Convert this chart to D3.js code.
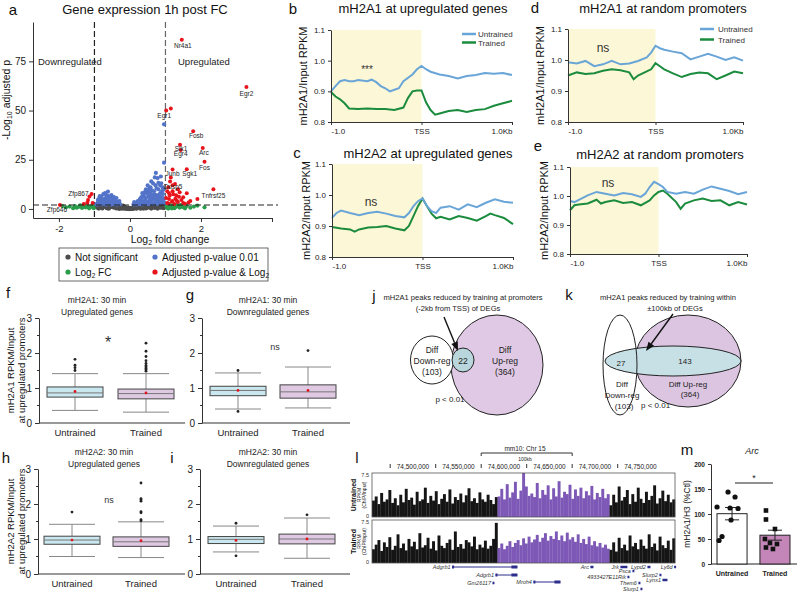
<!DOCTYPE html>
<html>
<head>
<meta charset="utf-8">
<script src="https://cdn.jsdelivr.net/npm/d3@7"></script>
<style>
body { margin: 0; background: #fff; }
svg { font-family: "Liberation Sans", Arial, sans-serif; }
</style>
</head>
<body>
<svg id="fig" width="798" height="593"></svg>
<script>
// panel a: volcano points [log2FC, -log10 padj]
var volcanoGrey = [[-0.95,1.2],[-0.9,0.6],[-0.85,1.6],[-0.8,0.9],[-0.75,1.8],[-0.7,1.2],[-0.65,0.5],[-0.6,1.5],[-0.55,1.0],[-0.5,1.8],
    [-0.45,0.7],[-0.4,1.3],[-0.35,1.7],[-0.3,0.9],[-0.25,1.4],[-0.2,0.6],[-0.15,1.0],[-0.1,0.3],[-0.05,0.6],[0,0.2],
    [0.05,0.5],[0.1,0.3],[0.15,0.9],[0.2,0.5],[0.25,1.2],[0.3,0.7],[0.35,1.6],[0.4,1.0],[0.45,1.8],[0.5,0.8],
    [0.55,1.4],[0.6,1.9],[0.65,1.1],[0.7,0.6],[0.75,1.5],[0.8,1.9],[0.85,0.9],[0.9,1.4],[0.95,0.5],[-0.6,0.2],
    [-0.3,0.1],[0.3,0.2],[0.6,0.3],[-0.9,1.9],[0.9,1.9],[-0.15,0.2],[0.45,0.4],[-0.45,1.9],[0.2,1.7],[-0.2,1.6],
    [-0.98,1.6],[-0.88,0.3],[-0.78,0.4],[-0.68,1.9],[-0.58,0.8],[-0.48,1.2],[-0.38,0.4],[-0.28,1.9],[-0.22,0.2],[-0.12,0.5],
    [-0.08,0.1],[0.08,0.15],[0.12,0.6],[0.18,0.2],[0.28,1.5],[0.38,0.3],[0.48,1.3],[0.58,0.6],[0.68,1.6],[0.78,0.3],
    [0.88,0.7],[0.98,1.2],[-0.02,0.05],[0.02,0.1]];
var volcanoGreen = [[-1.8,0.8],[-1.7,1.2],[-1.6,0.4],[-1.55,1.5],[-1.5,0.6],[-1.45,1.0],[-1.4,1.8],[-1.35,0.5],[-1.3,1.3],[-1.25,0.8],
    [-1.2,1.6],[-1.15,0.3],[-1.1,1.1],[-1.05,1.7],[-1.9,1.5],[1.05,0.5],[1.1,1.2],[1.15,0.8],[1.2,1.7],[1.25,0.4],
    [1.3,1.1],[1.35,1.6],[1.4,0.7],[1.45,1.3],[1.5,0.9],[1.6,1.5],[1.7,0.6],[1.8,1.2],[2.1,0.8],[1.02,1.8],
    [-1.02,0.4],[-1.08,1.5],[-1.28,1.9],[1.08,0.2],[1.12,1.9],[1.18,0.3],[1.3,1.9],[1.42,1.9],[1.55,0.3],[1.9,1.7]];
var volcanoBlue = [[-0.95,2.5],[-0.9,3.5],[-0.88,5],[-0.85,2.8],[-0.82,4.2],[-0.8,6],[-0.78,3],[-0.75,7.5],[-0.72,4.5],[-0.7,2.6],
    [-0.68,5.5],[-0.65,3.5],[-0.62,8.8],[-0.6,6.5],[-0.58,4],[-0.55,2.8],[-0.52,7],[-0.5,5],[-0.48,3.2],[-0.45,6],
    [-0.42,4.2],[-0.4,2.5],[-0.38,5.5],[-0.35,3.4],[-0.32,2.8],[-0.3,4],[-0.28,2.4],[-0.7,8],[-0.55,5.8],[-0.85,6.5],
    [-0.92,2.2],[-0.87,3.8],[-0.8,2.3],[-0.77,4.8],[-0.73,3.2],[-0.67,2.2],[-0.63,4.6],[-0.57,3.3],[-0.53,2.2],[-0.5,3.8],
    [-0.47,2.4],[-0.43,3.1],[-0.37,2.2],[-0.33,3.6],[-0.6,2.6],[-0.66,6.8],[-0.9,4.6],
    [0.1,2.3],[0.15,3],[0.2,2.6],[0.22,4],[0.25,3.2],[0.28,5],[0.3,2.5],[0.32,6],[0.35,4],[0.38,7],
    [0.4,3],[0.42,8.5],[0.45,5.5],[0.48,3.5],[0.5,9.5],[0.52,6.5],[0.55,4.5],[0.58,11],[0.6,7.5],[0.62,3],
    [0.65,13],[0.68,9],[0.7,5.5],[0.72,12],[0.73,18.3],[0.75,7],[0.78,15.7],[0.8,10],[0.82,4],[0.85,8],
    [0.88,13],[0.9,6],[0.92,11],[0.95,3.5],[0.96,23.5],[0.96,43],[0.5,12],[0.6,14],[0.7,16],[0.45,10],
    [0.35,8],[0.55,8.5],[0.65,6],[0.75,10.5],[0.85,12],[0.4,6],[0.3,4.5],[0.9,9],
    [0.12,3.5],[0.18,2.2],[0.24,2.4],[0.27,3.8],[0.33,2.3],[0.36,3.2],[0.39,2.4],[0.43,4.6],[0.46,2.6],[0.5,3.3],
    [0.53,2.4],[0.57,5.8],[0.59,3.2],[0.63,4.8],[0.66,2.6],[0.69,7.2],[0.71,3.4],[0.74,4.3],[0.77,2.6],[0.79,5.4],
    [0.83,6.6],[0.86,3.2],[0.89,4.7],[0.93,7.6],[0.97,5.2],[0.94,9.8],[0.98,2.8],[0.62,9.5],[0.8,13.2],[0.87,16.5],
    [0.55,10.5],[0.48,7.8]];
var volcanoRed = [[1.05,9],[1.1,8],[1.2,9],[1.3,7],[1.4,8.5],[1.5,6],[1.1,5],[1.2,4],[1.35,3.5],[1.5,3],
    [1.7,4],[1.9,5],[-1.05,3],[-1.2,3.2],[-1.3,2.5],[1.25,2.5],[1.05,3],[1.6,8],[1.15,16],[1.27,12.7],
    [1.15,51],[-1.14,6.3],[-1.18,4.6],[1.02,5.5],[1.08,2.8],[1.12,6.8],[1.18,3.6],[1.22,7.5],[1.28,5.2],[1.32,4.2],
    [1.38,6.2],[1.45,4.6],[1.55,2.6],[1.65,3.3],[1.08,11],[1.2,12],[1.35,10]];
var geneLabels = ["Nr4a1","Egr2","Egr1","Fosb","Sik1","Egr4","Arc","Junb","Sgk1","Fos","Dusp5","Tnfrsf25","Zfp867","Zfp646"];
var geneLabelPts = [[1.46,86],[3.28,62],[1.02,50],[1.78,39.5],[1.41,32.6],[1.43,30],[2.05,31],[1.2,20],[1.6,20.2],[2.1,24],
    [1.13,14],[2.35,10],[-1.08,7.6],[-1.97,2.0]];

// panels b-e: profiles [position (kb), RPKM ratio]
var bUntrained = [[-1,0.90],[-0.95,0.917],[-0.9,0.933],[-0.85,0.937],[-0.8,0.933],[-0.75,0.933],[-0.7,0.937],[-0.6,0.933],[-0.55,0.938],[-0.5,0.93],
    [-0.45,0.917],[-0.4,0.91],[-0.35,0.90],[-0.3,0.905],[-0.25,0.91],[-0.2,0.933],[-0.1,0.955],[-0.05,0.972],[0,0.983],[0.05,0.972],
    [0.1,0.964],[0.2,0.955],[0.3,0.95],[0.4,0.942],[0.5,0.95],[0.6,0.953],[0.7,0.96],[0.8,0.957],[0.9,0.96],[1,0.953]];
var bTrained = [[-1,0.898],[-0.95,0.883],[-0.9,0.874],[-0.85,0.861],[-0.8,0.844],[-0.7,0.842],[-0.6,0.844],[-0.5,0.842],[-0.4,0.842],[-0.3,0.839],
    [-0.2,0.847],[-0.15,0.878],[-0.1,0.9],[-0.05,0.903],[0,0.903],[0.05,0.864],[0.1,0.839],[0.15,0.824],[0.2,0.828],[0.3,0.836],
    [0.4,0.839],[0.5,0.833],[0.6,0.839],[0.7,0.842],[0.8,0.853],[0.9,0.861],[1,0.869]];
var cUntrained = [[-1,0.926],[-0.95,0.942],[-0.9,0.95],[-0.8,0.942],[-0.7,0.935],[-0.6,0.942],[-0.5,0.946],[-0.4,0.94],[-0.3,0.932],[-0.2,0.928],
    [-0.15,0.942],[-0.1,0.964],[-0.05,0.98],[0,0.989],[0.05,0.964],[0.1,0.948],[0.15,0.942],[0.2,0.959],[0.3,0.964],[0.4,0.953],
    [0.5,0.97],[0.6,0.961],[0.7,0.975],[0.8,0.986],[0.9,0.978],[1,0.975]];
var cTrained = [[-1,0.897],[-0.9,0.892],[-0.8,0.889],[-0.75,0.882],[-0.7,0.889],[-0.6,0.895],[-0.5,0.897],[-0.4,0.9],[-0.3,0.892],[-0.2,0.886],
    [-0.15,0.9],[-0.1,0.932],[-0.05,0.964],[0,0.989],[0.05,0.964],[0.1,0.94],[0.15,0.925],[0.2,0.93],[0.3,0.921],[0.4,0.932],
    [0.5,0.926],[0.6,0.917],[0.7,0.932],[0.75,0.94],[0.8,0.935],[0.9,0.926],[1,0.906]];
var dUntrained = [[-1,0.993],[-0.9,0.989],[-0.8,0.997],[-0.7,0.98],[-0.6,0.986],[-0.5,0.997],[-0.4,0.986],[-0.3,0.989],[-0.2,0.997],[-0.1,1.008],
    [-0.05,1.024],[0,1.046],[0.05,1.038],[0.1,1.033],[0.2,1.027],[0.3,1.022],[0.4,1.002],[0.5,1.011],[0.6,1.02],[0.7,1.011],
    [0.8,1.0],[0.9,1.009],[1,0.998]];
var dTrained = [[-1,0.95],[-0.9,0.96],[-0.8,0.955],[-0.7,0.957],[-0.6,0.965],[-0.5,0.97],[-0.4,0.967],[-0.3,0.96],[-0.25,0.938],[-0.2,0.95],
    [-0.1,0.963],[-0.05,0.97],[0,0.99],[0.05,0.98],[0.1,0.97],[0.2,0.957],[0.3,0.945],[0.4,0.955],[0.5,0.96],[0.6,0.957],
    [0.7,0.938],[0.8,0.95],[0.9,0.963],[1,0.957]];
var eUntrained = [[-1,0.983],[-0.95,0.979],[-0.9,0.987],[-0.8,1.002],[-0.7,1.014],[-0.6,1.008],[-0.5,1.002],[-0.4,1.01],[-0.3,1.006],[-0.2,0.997],
    [-0.15,1.008],[-0.1,1.031],[-0.05,1.049],[0,1.041],[0.05,1.031],[0.1,1.014],[0.2,1.008],[0.3,1.014],[0.4,1.008],[0.5,1.022],
    [0.6,1.033],[0.7,1.025],[0.8,1.017],[0.9,1.006],[1,1.014]];
var eTrained = [[-1,0.951],[-0.95,0.968],[-0.9,0.971],[-0.8,0.974],[-0.7,0.987],[-0.65,0.974],[-0.6,0.979],[-0.5,0.985],[-0.4,0.976],[-0.3,0.979],
    [-0.2,0.968],[-0.1,0.985],[-0.05,1.002],[0,1.014],[0.05,1.019],[0.1,1.008],[0.2,0.979],[0.25,0.956],[0.3,0.974],[0.4,0.985],
    [0.5,0.991],[0.6,0.983],[0.7,0.985],[0.8,0.968],[0.9,0.979],[1,0.971]];

// panels f-i: box stats [low whisker, q1, median, q3, high whisker, mean] for Untrained, Trained
var fStats = [[0.36,0.74,0.86,1.03,1.41,0.9],[0.31,0.69,0.84,0.97,1.41,0.86]];
var fOut = [[1.5,1.58,1.65,1.82],[1.48,1.52,1.56,1.6,1.64,1.7,1.78,1.9,2.05,2.28]];
var gStats = [[0.4,0.78,0.93,1.05,1.43,0.93],[0.43,0.71,0.89,1.09,1.6,0.93]];
var gOut = [[1.5,0.33],[2.07]];
var hStats = [[0.5,0.85,0.97,1.08,1.42,0.97],[0.47,0.79,0.92,1.06,1.49,0.95]];
var hOut = [[1.77],[1.52,1.55,1.75,1.78,2.08,2.12,2.15,2.6]];
var iStats = [[0.63,0.87,0.99,1.07,1.37,0.96],[0.45,0.86,1.0,1.14,1.6,1.0]];
var iOut = [[1.45,0.52],[1.69]];
var groups = ["Untrained", "Trained"];

// panels j, k: overlap counts
var jCounts = [103, 22, 364];
var kCounts = [103, 27, 143, 364];

// panel l: RPKM tracks in 3 kb bins from chr15:74,455,000
var binStart = 74455000, binSize = 3000;
var purpleStart = 74592000, purpleEnd = 74714000;
var untrainedTrack = [2.8,3.5,2.2,4.1,2.6,3.0,4.6,2.4,3.2,2.0,3.8,2.5,4.8,2.9,3.3,2.1,4.3,2.7,3.0,5.0,2.4,3.6,2.8,4.4,2.2,3.1,3.9,2.6,4.7,2.3,
    3.4,2.9,4.0,2.5,3.7,4.9,2.7,3.2,2.4,4.2,3.0,2.6,3.8,2.9,2.2,3.4,
    3.5,4.8,3.0,5.6,3.3,4.2,6.0,3.1,4.5,7.5,5.2,3.6,4.0,3.4,5.8,3.2,4.6,3.8,5.4,3.0,4.9,3.5,6.1,3.3,4.3,3.9,5.5,3.1,4.7,3.6,
    5.0,3.2,4.4,3.7,5.3,3.0,4.1,3.4,4.8,3.2,3.9,
    2.0,3.8,2.5,5.2,2.8,3.4,4.6,2.2,3.9,2.6,5.0,3.1,2.4,4.3,2.9,3.6,5.4,2.3,3.2,4.5,2.7,3.8,2.5,3.0];
var trainedTrack = [2.4,3.2,4.0,2.1,3.6,2.8,4.5,2.3,3.0,5.0,2.6,3.4,2.2,4.2,2.9,3.7,2.4,5.2,2.7,3.1,4.4,2.5,3.8,2.2,4.8,3.0,2.6,3.5,4.1,2.3,
    5.5,2.8,3.3,2.5,4.0,3.6,2.9,4.6,2.4,3.2,2.7,3.9,2.5,3.0,4.2,7.0,
    2.6,3.4,2.4,3.0,3.8,2.8,3.5,4.0,3.1,4.3,3.4,4.6,3.6,4.1,4.9,3.7,4.4,5.2,3.9,4.7,4.2,5.5,4.0,4.8,3.8,5.3,4.1,4.5,3.7,5.0,
    3.5,4.2,3.3,4.6,3.1,3.8,2.9,3.5,2.7,3.2,2.5,
    2.3,3.6,2.0,4.4,2.6,3.2,2.2,4.8,2.9,3.5,2.4,4.1,3.0,2.5,5.0,2.8,3.4,2.2,4.6,3.1,2.6,3.9,2.3,4.3];
var coordTicks = [74500000, 74550000, 74600000, 74650000, 74700000, 74750000];
var geneNames = ["Adgrb1","Adgrb1","Gm26117","Mroh4","Arc","Jrk","Psca","4933427E11Rik","Them6","Slurp1","Lypd2","Slurp2","Lynx1","Ly6d"];
var geneStart = [74543000,74590700,74587400,74632400,74695000,74728000,74741200,74735700,74747800,74750000,74757700,74770900,74774200,74787000];
var geneEnd = [74614800,74614800,74588500,74662100,74698400,74735700,74743400,74736800,74750000,74752200,74761000,74773100,74779700,74788000];

// panel m: mH2A1/H3 at Arc (% of control)
var mUntrained = [144, 134, 114, 112, 111, 88, 55, 47];
var mTrained = [107, 89, 70, 50, 42, 40, 33, 30];

var svg = d3.select("#fig");
var BLUE = "#6aa5d8", GREEN = "#1b8c3e";

function label(x, y, t, size, opts) {
    opts = opts || {};
    return svg.append("text").attr("x", x).attr("y", y).text(t)
        .attr("font-size", size)
        .attr("text-anchor", opts.anchor || "middle")
        .attr("font-weight", opts.weight || "normal")
        .attr("font-style", opts.italic ? "italic" : "normal")
        .attr("fill", opts.fill || "#111");
}
function vlabel(x, y, t, size, opts) {
    opts = opts || {};
    return svg.append("text").attr("transform", "translate(" + x + "," + y + ") rotate(-90)")
        .attr("text-anchor", "middle").attr("font-size", size)
        .attr("font-weight", opts.weight || "normal").attr("fill", "#111").text(t);
}
function styleAxis(g, size) {
    g.attr("font-family", null).attr("font-size", size);
    g.selectAll("text").attr("fill", "#222");
    g.selectAll("line,path").attr("stroke", "#333");
}

// ---------- panel a ----------
label(13, 15, "a", 15);
label(145, 14, "Gene expression 1h post FC", 13);
var vx = d3.scaleLinear().domain([-2.73, 4.0]).range([33, 272]);
var vy = d3.scaleLinear().domain([-4.6, 95]).range([218, 22]);

var ay = svg.append("g").attr("transform", "translate(33,0)")
    .call(d3.axisLeft(vy).tickValues([0, 25, 50, 75]).tickSize(4).tickSizeOuter(0));
styleAxis(ay, 10);
var ax = svg.append("g").attr("transform", "translate(0,218)")
    .call(d3.axisBottom(vx).tickValues([-2, 0, 2, 4]).tickSize(4).tickSizeOuter(0)
        .tickFormat(function (d) { return d === 4 ? "" : String(d); }));
styleAxis(ax, 9.5);

svg.append("g").selectAll("line").data([-1, 1]).enter().append("line")
    .attr("x1", function (d) { return vx(d); }).attr("x2", function (d) { return vx(d); })
    .attr("y1", 22).attr("y2", 218)
    .attr("stroke", function (d) { return d < 0 ? "#222" : "#666"; })
    .attr("stroke-width", 1.2).attr("stroke-dasharray", "6,3");

function dots(data, color, r) {
    svg.append("g").selectAll("circle").data(data).enter().append("circle")
        .attr("cx", function (d) { return vx(d[0]); })
        .attr("cy", function (d) { return vy(d[1]); })
        .attr("r", r || 2).attr("fill", color);
}
dots(volcanoGrey, "#4d4d4d", 2.3);
dots(volcanoGreen, "#2a9d4c", 2.1);
dots(volcanoBlue, "#5273c8", 2.1);
dots(volcanoRed, "#e8141b", 2);
dots(geneLabelPts, "#e8141b", 2);

svg.append("line").attr("x1", 33).attr("x2", 278).attr("y1", vy(2)).attr("y2", vy(2))
    .attr("stroke", "#222").attr("stroke-width", 1.2).attr("stroke-dasharray", "6,3");

var labelOffsets = [[1, 8, "middle"], [0, 9, "middle"], [-2, 7, "middle"], [3, 7, "middle"], [1, 6, "middle"],
    [0, 6.5, "middle"], [1, 7, "middle"], [0, 6.5, "middle"], [3, 6.5, "middle"], [0, 8, "middle"],
    [3, 8, "middle"], [0, 9, "middle"], [-3, 2, "end"], [-3, 7, "middle"]];
geneLabels.forEach(function (name, i) {
    var p = geneLabelPts[i], o = labelOffsets[i];
    label(vx(p[0]) + o[0], vy(p[1]) + o[1], name, 6.5, { anchor: o[2], fill: "#222" });
});

label(38, 65, "Downregulated", 9.5, { anchor: "start", fill: "#222" });
label(178, 65, "Upregulated", 9.5, { anchor: "start", fill: "#222" });

var xt = svg.append("text").attr("x", 170).attr("y", 243).attr("text-anchor", "middle").attr("font-size", 10.5).attr("fill", "#111");
xt.append("tspan").text("Log");
xt.append("tspan").attr("font-size", 7).attr("dy", 2).text("2");
xt.append("tspan").attr("dy", -2).text(" fold change");
var yt = svg.append("text").attr("transform", "translate(10,100) rotate(-90)").attr("text-anchor", "middle").attr("font-size", 10.5).attr("fill", "#111");
yt.append("tspan").text("-Log");
yt.append("tspan").attr("font-size", 7).attr("dy", 2).text("10");
yt.append("tspan").attr("dy", -2).text(" adjusted p");

svg.append("rect").attr("x", 59).attr("y", 248).attr("width", 209).attr("height", 33)
    .attr("fill", "none").attr("stroke", "#444").attr("stroke-width", 0.8);
var legA = [["Not significant", 68, 257, "#4d4d4d"], ["Log2 FC", 68, 272, "#2a9d4c"],
    ["Adjusted p-value 0.01", 155, 257, "#5273c8"], ["Adjusted p-value & Log2", 155, 272, "#e8141b"]];
legA.forEach(function (l) {
    svg.append("circle").attr("cx", l[1]).attr("cy", l[2]).attr("r", 2.6).attr("fill", l[3]);
    var t = svg.append("text").attr("x", l[1] + 7).attr("y", l[2] + 3.5).attr("font-size", 10).attr("fill", "#111");
    var parts = l[0].split("Log2");
    t.append("tspan").text(parts[0] + (parts.length > 1 ? "Log" : ""));
    if (parts.length > 1) {
        t.append("tspan").attr("font-size", 6.5).attr("dy", 2).text("2");
        t.append("tspan").attr("dy", -2).text(parts[1]);
    }
});

// ---------- panels b-e ----------
function profilePanel(o) {
    var x = d3.scaleLinear().domain([-1, 1]).range([o.left, o.right]);
    var y = d3.scaleLinear().domain([0.8, 1.1]).range([o.bottom, o.top]);
    var g = svg.append("g");
    g.append("rect").attr("x", x(-1)).attr("y", y(1.1)).attr("width", x(0) - x(-1))
        .attr("height", y(0.8) - y(1.1)).attr("fill", "#fcf7d6");
    var line = d3.line().x(function (d) { return x(d[0]); }).y(function (d) { return y(d[1]); });
    g.append("path").datum(o.trained).attr("d", line).attr("fill", "none").attr("stroke", GREEN).attr("stroke-width", 2);
    g.append("path").datum(o.untrained).attr("d", line).attr("fill", "none").attr("stroke", BLUE).attr("stroke-width", 2);
    var ya = g.append("g").attr("transform", "translate(" + o.left + ",0)")
        .call(d3.axisLeft(y).tickValues([0.8, 0.9, 1.0, 1.1]).tickFormat(d3.format(".1f")).tickSize(3).tickSizeOuter(0));
    styleAxis(ya, 8);
    var xa = g.append("g").attr("transform", "translate(0," + o.bottom + ")")
        .call(d3.axisBottom(x).tickValues([-1, 0, 1]).tickSize(3).tickSizeOuter(0)
            .tickFormat(function (d) { return d === -1 ? "-1.0" : d === 0 ? "TSS" : "1.0Kb"; }));
    styleAxis(xa, 8);
    xa.selectAll("text").attr("text-anchor", function (d) { return d === -1 ? "start" : d === 0 ? "middle" : "end"; });
    label(o.lx, o.ly, o.letter, 15);
    label(o.tx, o.ty, o.title, 13);
    vlabel(o.yx, (o.top + o.bottom) / 2, o.ylab, 11);
    label(o.sx, o.sy, o.sig, o.sig === "ns" ? 12 : 10, { fill: "#333" });
    if (o.leg) {
        [["Untrained", BLUE], ["Trained", GREEN]].forEach(function (l, i) {
            var yy = o.leg[2] + i * o.leg[3];
            g.append("line").attr("x1", o.leg[0]).attr("x2", o.leg[0] + 14).attr("y1", yy).attr("y2", yy)
                .attr("stroke", l[1]).attr("stroke-width", 2.5);
            label(o.leg[1], yy + 3, l[0], 8, { anchor: "start", fill: "#333" });
        });
    }
}
profilePanel({ left: 331, right: 512, top: 30, bottom: 122, untrained: bUntrained, trained: bTrained,
    letter: "b", lx: 293, ly: 14, title: "mH2A1 at upregulated genes", tx: 423, ty: 13,
    ylab: "mH2A1/Input RPKM", yx: 307, sig: "***", sx: 367, sy: 73, leg: [462, 478, 34, 8.5] });
profilePanel({ left: 332, right: 513, top: 164, bottom: 257, untrained: cUntrained, trained: cTrained,
    letter: "c", lx: 297, ly: 158, title: "mH2A2 at upregulated genes", tx: 428, ty: 158,
    ylab: "mH2A2/Input RPKM", yx: 310, sig: "ns", sx: 371, sy: 206 });
profilePanel({ left: 568, right: 743, top: 29, bottom: 122, untrained: dUntrained, trained: dTrained,
    letter: "d", lx: 535, ly: 13, title: "mH2A1 at random promoters", tx: 663, ty: 13,
    ylab: "mH2A1/Input RPKM", yx: 544, sig: "ns", sx: 603, sy: 52, leg: [700, 718, 29, 10.5] });
profilePanel({ left: 570, right: 747, top: 167, bottom: 254, untrained: eUntrained, trained: eTrained,
    letter: "e", lx: 538, ly: 151, title: "mH2A2 at random promoters", tx: 660, ty: 159,
    ylab: "mH2A2/Input RPKM", yx: 548, sig: "ns", sx: 608, sy: 187 });

// ---------- panels f-i ----------
function boxPanel(o) {
    var y = d3.scaleLinear().domain([0, 3]).range([o.y0, o.y3]);
    var g = svg.append("g");
    var ya = g.append("g").attr("transform", "translate(" + o.ax + ",0)")
        .call(d3.axisLeft(y).tickValues([0, 1, 2, 3]).tickFormat(d3.format("d")).tickSize(4).tickSizeOuter(0));
    styleAxis(ya, 10);
    g.selectAll(".minor").data([0.5, 1.5, 2.5]).enter().append("line")
        .attr("x1", o.ax - 2).attr("x2", o.ax).attr("y1", function (d) { return y(d); }).attr("y2", function (d) { return y(d); })
        .attr("stroke", "#333");
    g.append("line").attr("x1", o.ax).attr("x2", o.xEnd).attr("y1", o.y0).attr("y2", o.y0).attr("stroke", "#333");
    var fills = ["#c9e7ef", "#dec8e2"];
    o.stats.forEach(function (s, i) {
        var cx = o.centers[i], w = 56, cw = 46;
        g.append("line").attr("x1", cx).attr("x2", cx).attr("y1", y(s[0])).attr("y2", y(s[4])).attr("stroke", "#888");
        g.append("line").attr("x1", cx - cw / 2).attr("x2", cx + cw / 2).attr("y1", y(s[0])).attr("y2", y(s[0])).attr("stroke", "#888");
        g.append("line").attr("x1", cx - cw / 2).attr("x2", cx + cw / 2).attr("y1", y(s[4])).attr("y2", y(s[4])).attr("stroke", "#888");
        g.append("rect").attr("x", cx - w / 2).attr("y", y(s[3])).attr("width", w).attr("height", y(s[1]) - y(s[3]))
            .attr("fill", fills[i]).attr("stroke", "#444").attr("stroke-width", 1);
        g.append("line").attr("x1", cx - w / 2).attr("x2", cx + w / 2).attr("y1", y(s[2])).attr("y2", y(s[2])).attr("stroke", "#777");
        g.append("circle").attr("cx", cx).attr("cy", y(s[5])).attr("r", 1.4).attr("fill", "#e0141b");
        g.selectAll(".out" + i).data(o.outs[i]).enter().append("circle")
            .attr("cx", cx).attr("cy", function (d) { return y(d); }).attr("r", 1.4).attr("fill", "#222");
        label(cx, o.y0 + 13, groups[i], 9.5, { fill: "#222" });
    });
    label(o.lx, o.ly, o.letter, 15);
    label(o.tx, o.ty, o.t1, 8.5, { fill: "#222" });
    label(o.tx, o.ty + 12, o.t2, 8.5, { fill: "#222" });
    label(o.sx, o.sy, o.sig, o.sig === "*" ? 16 : 9, { fill: "#333" });
    if (o.ylab) {
        vlabel(14, (o.y0 + o.y3) / 2, o.ylab[0], 9.5);
        vlabel(25, (o.y0 + o.y3) / 2, o.ylab[1], 9.5);
    }
}
boxPanel({ ax: 39, y0: 423, y3: 318, xEnd: 185, centers: [75, 146], stats: fStats, outs: fOut,
    letter: "f", lx: 8, ly: 298, t1: "mH2A1: 30 min", t2: "Upregulated genes", tx: 97, ty: 303,
    sig: "*", sx: 108, sy: 348, ylab: ["mH2A1 RPKM/Input", "at upregulated promoters"] });
boxPanel({ ax: 202, y0: 423, y3: 318, xEnd: 350, centers: [238, 308], stats: gStats, outs: gOut,
    letter: "g", lx: 190, ly: 300, t1: "mH2A1: 30 min", t2: "Downregulated genes", tx: 268, ty: 303,
    sig: "ns", sx: 275, sy: 350 });
boxPanel({ ax: 38, y0: 574, y3: 469, xEnd: 185, centers: [72, 141], stats: hStats, outs: hOut,
    letter: "h", lx: 6, ly: 463, t1: "mH2A2: 30 min", t2: "Upregulated genes", tx: 104, ty: 455,
    sig: "ns", sx: 109, sy: 503, ylab: ["mH2A2 RPKM/Input", "at upregulated promoters"] });
boxPanel({ ax: 200, y0: 574, y3: 469, xEnd: 350, centers: [236, 307], stats: iStats, outs: iOut,
    letter: "i", lx: 172, ly: 463, t1: "mH2A2: 30 min", t2: "Downregulated genes", tx: 268, ty: 455 });

// ---------- panel j ----------
function arrow(x1, y1, x2, y2) {
    var a = Math.atan2(y2 - y1, x2 - x1), L = 9, W = 3.5;
    svg.append("line").attr("x1", x1).attr("y1", y1).attr("x2", x2 - L * Math.cos(a)).attr("y2", y2 - L * Math.sin(a))
        .attr("stroke", "#111").attr("stroke-width", 1.4);
    var bx = x2 - L * Math.cos(a), by = y2 - L * Math.sin(a);
    svg.append("path").attr("d", "M" + x2 + "," + y2 + "L" + (bx + W * Math.sin(a)) + "," + (by - W * Math.cos(a)) +
        "L" + (bx - W * Math.sin(a)) + "," + (by + W * Math.cos(a)) + "Z").attr("fill", "#111");
}
label(374, 301, "j", 15);
label(463, 300, "mH2A1 peaks reduced by training at promoters", 7.6, { fill: "#222" });
label(458, 311, "(-2kb from TSS) of DEGs", 7.6, { fill: "#222" });
svg.append("ellipse").attr("cx", 497).attr("cy", 365).attr("rx", 46).attr("ry", 50).attr("fill", "#dfc9e4").attr("stroke", "#222");
svg.append("ellipse").attr("cx", 432).attr("cy", 360).attr("rx", 21.5).attr("ry", 24).attr("fill", "#fff").attr("stroke", "#222");
svg.append("ellipse").attr("cx", 463).attr("cy", 360).attr("rx", 11).attr("ry", 12).attr("fill", "#b9d6dc").attr("stroke", "#222");
label(432, 353, "Diff", 8.5, { fill: "#222" });
label(432, 364, "Down-reg", 8.5, { fill: "#222" });
label(432, 375, "(" + jCounts[0] + ")", 8.5, { fill: "#222" });
label(463, 364, jCounts[1], 8.5, { fill: "#222" });
label(505, 353, "Diff", 8.5, { fill: "#222" });
label(505, 364, "Up-reg", 8.5, { fill: "#222" });
label(505, 375, "(" + jCounts[2] + ")", 8.5, { fill: "#222" });
label(450, 402, "p < 0.01", 8, { fill: "#222" });
arrow(444, 317, 458, 351);

// ---------- panel k ----------
label(569, 300, "k", 15);
label(668, 300, "mH2A1 peaks reduced by training within", 7.6, { fill: "#222" });
label(675, 311, "\u00b1100kb of DEGs", 7.6, { fill: "#222" });
svg.append("ellipse").attr("cx", 688).attr("cy", 361).attr("rx", 53).attr("ry", 46).attr("fill", "#dcc5e0").attr("stroke", "#222");
svg.append("ellipse").attr("cx", 673).attr("cy", 361).attr("rx", 68).attr("ry", 15).attr("fill", "#c6e0e6").attr("stroke", "#222");
svg.append("ellipse").attr("cx", 620).attr("cy", 365).attr("rx", 17).attr("ry", 50).attr("fill", "none").attr("stroke", "#222");
label(621, 366, kCounts[1], 8, { fill: "#222" });
label(685, 364, kCounts[2], 8, { fill: "#222" });
label(622, 387, "Diff", 8, { fill: "#222" });
label(622, 398, "Down-reg", 8, { fill: "#222" });
label(624, 409, "(" + kCounts[0] + ")", 8, { fill: "#222" });
label(688, 387, "Diff Up-reg", 8, { fill: "#222" });
label(690, 397, "(" + kCounts[3] + ")", 8, { fill: "#222" });
label(641, 408, "p < 0.01", 8, { anchor: "start", fill: "#222" });
arrow(673, 314, 646, 351);

// ---------- panel l ----------
label(357, 463, "l", 15);
var tx = d3.scaleLinear().domain([74455000, 74788000]).range([372, 675]);
label(525, 451, "mm10: Chr 15", 6.5, { fill: "#222" });
svg.append("path").attr("d", "M" + tx(74575000) + ",456V453H" + tx(74675000) + "V456").attr("fill", "none").attr("stroke", "#333");
label(525, 461, "100kb", 5, { fill: "#222" });
coordTicks.forEach(function (c) {
    label(tx(c), 469, d3.format(",")(c), 6.5, { fill: "#222" });
    svg.append("line").attr("x1", tx(c - 25000)).attr("x2", tx(c - 25000)).attr("y1", 464).attr("y2", 468).attr("stroke", "#333");
});
function track(vals, top, bottom, names) {
    var ty = d3.scaleLinear().domain([0, 7.5]).range([bottom, top]);
    var bw = tx(binStart + binSize) - tx(binStart);
    svg.append("g").selectAll("rect").data(vals).enter().append("rect")
        .attr("x", function (d, i) { return tx(binStart + i * binSize); })
        .attr("width", bw + 0.2)
        .attr("y", function (d) { return ty(d); })
        .attr("height", function (d) { return bottom - ty(d); })
        .attr("fill", function (d, i) {
            var s = binStart + i * binSize;
            return (s >= purpleStart && s < purpleEnd) ? "#7d58b6" : "#151515";
        });
    svg.append("rect").attr("x", 372).attr("y", top).attr("width", 303).attr("height", bottom - top)
        .attr("fill", "none").attr("stroke", "#555").attr("stroke-width", 0.8);
    label(369, ty(7.5) + 4, "7.5", 5.5, { anchor: "end", fill: "#333" });
    label(369, ty(0) + 1, "0", 5.5, { anchor: "end", fill: "#333" });
    var cy = (top + bottom) / 2;
    vlabel(356, cy, names, 7, { weight: "bold" });
    vlabel(361, cy, "RPKM", 5);
    vlabel(366, cy, "(ChIP/Input)", 5);
}
track(untrainedTrack, 473, 517, "Untrained");
track(trainedTrack, 520, 563, "Trained");
var geneY = [567, 575, 583, 582, 567, 567, 571, 577, 583, 589, 567, 575, 580, 567];
geneNames.forEach(function (n, i) {
    var x1 = tx(geneStart[i]), x2 = tx(geneEnd[i]), gy = geneY[i];
    svg.append("line").attr("x1", x1).attr("x2", Math.max(x2, x1 + 2)).attr("y1", gy).attr("y2", gy)
        .attr("stroke", "#2d2d8c").attr("stroke-width", x2 - x1 > 10 ? 1 : 2.5);
    if (x2 - x1 > 10) {
        svg.append("rect").attr("x", x1).attr("y", gy - 1.5).attr("width", 2).attr("height", 3).attr("fill", "#2d2d8c");
        svg.append("rect").attr("x", x2 - 6).attr("y", gy - 1.5).attr("width", 6).attr("height", 3).attr("fill", "#2d2d8c");
    }
    label(x1 - 1.5, gy + 2, n, 5.5, { anchor: "end", italic: true, fill: "#333" });
});

// ---------- panel m ----------
label(687, 455, "m", 15);
label(752, 454, "Arc", 9, { italic: true, fill: "#222" });
var mx = d3.scaleBand().domain(groups).range([711, 796]).paddingInner(0.3).paddingOuter(0.14);
var my = d3.scaleLinear().domain([0, 200]).range([564, 464]);
var mya = svg.append("g").attr("transform", "translate(711,0)")
    .call(d3.axisLeft(my).tickValues([0, 50, 100, 150, 200]).tickSize(3).tickSizeOuter(0));
styleAxis(mya, 6.5);
mya.selectAll("text").attr("font-weight", "bold");
svg.append("line").attr("x1", 711).attr("x2", 797).attr("y1", 564).attr("y2", 564).attr("stroke", "#222");
vlabel(690, 514, "mH2A1/H3 (%Ctl)", 8.5);
[mUntrained, mTrained].forEach(function (vals, i) {
    var m = d3.mean(vals), sem = d3.deviation(vals) / Math.sqrt(vals.length);
    var x0 = mx(groups[i]), bw = mx.bandwidth(), cx = x0 + bw / 2;
    svg.append("rect").attr("x", x0).attr("y", my(m)).attr("width", bw).attr("height", 564 - my(m))
        .attr("fill", i === 0 ? "#fff" : "#c486b8").attr("stroke", "#222").attr("stroke-width", 1);
    svg.append("line").attr("x1", cx).attr("x2", cx).attr("y1", my(m - sem)).attr("y2", my(m + sem)).attr("stroke", "#222");
    [m - sem, m + sem].forEach(function (v) {
        svg.append("line").attr("x1", cx - 7).attr("x2", cx + 7).attr("y1", my(v)).attr("y2", my(v)).attr("stroke", "#222");
    });
    label(cx, 576, groups[i], 7, { weight: "bold", fill: "#222" });
});
var jitU = [-4, 3, -15, -2, 6, -1, -10, -13], jitT = [-9, -9, 0, -10, -5, 2, -9, -2];
svg.append("g").selectAll("circle").data(mUntrained).enter().append("circle")
    .attr("cx", function (d, i) { return mx("Untrained") + mx.bandwidth() / 2 + jitU[i]; })
    .attr("cy", function (d) { return my(d); }).attr("r", 2.6).attr("fill", "#111");
svg.append("g").selectAll("rect").data(mTrained).enter().append("rect")
    .attr("x", function (d, i) { return mx("Trained") + mx.bandwidth() / 2 + jitT[i] - 2.3; })
    .attr("y", function (d) { return my(d) - 2.3; }).attr("width", 4.6).attr("height", 4.6).attr("fill", "#111");
svg.append("line").attr("x1", 735).attr("x2", 773).attr("y1", 483).attr("y2", 483).attr("stroke", "#222");
label(754, 481, "*", 9, { fill: "#222" });
</script>
</body>
</html>
